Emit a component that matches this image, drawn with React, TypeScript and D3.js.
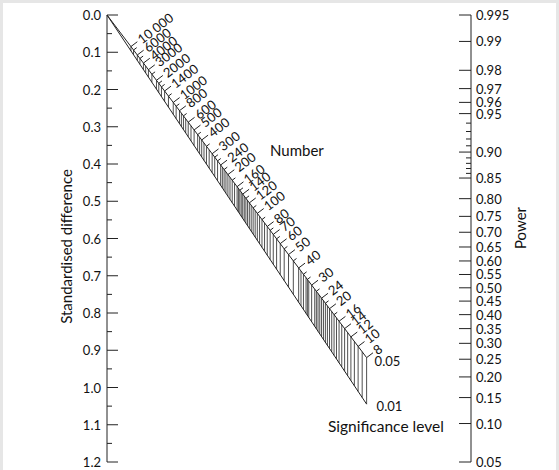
import React from 'react'
import { scaleLinear } from 'd3'

// standardised difference (left scale)
const sdLabels = [0, 0.1, 0.2, 0.3, 0.4, 0.5, 0.6, 0.7, 0.8, 0.9, 1.0, 1.1, 1.2]
const sdMinor = [0.05, 0.15, 0.25, 0.35, 0.45, 0.55, 0.65, 0.75, 0.85, 0.95, 1.05, 1.15]

// power (right scale)
const powerLabels = [0.995, 0.99, 0.98, 0.97, 0.96, 0.95, 0.9, 0.85, 0.8, 0.75, 0.7, 0.65, 0.6, 0.55, 0.5, 0.45, 0.4, 0.35, 0.3, 0.25, 0.2, 0.15, 0.1, 0.05]
const powerMinor = [0.94, 0.93, 0.92, 0.91, 0.89, 0.88, 0.87, 0.86]

// total sample size (diagonal scale)
const numberLabels = [10000, 6000, 4000, 3000, 2000, 1400, 1000, 800, 600, 500, 400, 300, 240, 200, 160, 140, 120, 100, 80, 70, 60, 50, 40, 30, 24, 20, 16, 14, 12, 10, 8]
const numberMinor = [8000, 5000, 2500, 1800, 1600, 1200, 900, 700, 450, 350, 280, 260, 220, 180, 150, 130, 110, 90, 75, 65, 55, 45, 36, 33, 27, 22, 18]
const hatchExtra = [3500, 750, 650, 550, 425, 375, 325, 230, 210, 190, 170, 155, 145, 135, 125, 115, 105, 95, 85, 38, 34, 32, 28, 26, 25, 23, 21, 19, 17, 15, 13, 11, 9]

const sigLevels = [0.05, 0.01]

const font = 'Lato, "Open Sans", sans-serif'

// inverse normal cdf (Acklam)
function probit(p: number) {
  const a = [-39.69683028665376, 220.9460984245205, -275.9285104469687, 138.357751867269, -30.66479806614716, 2.506628277459239]
  const b = [-54.47609879822406, 161.5858368580409, -155.6989798598866, 66.80131188771972, -13.28068155288572]
  const c = [-0.007784894002430293, -0.3223964580411365, -2.400758277161838, -2.549671010115505, 4.374664141464968, 2.938163982698783]
  const d = [0.007784695709041462, 0.3224671290700398, 2.445134137142996, 3.754408661907416]
  const tail = (q: number) =>
    (((((c[0] * q + c[1]) * q + c[2]) * q + c[3]) * q + c[4]) * q + c[5]) /
    ((((d[0] * q + d[1]) * q + d[2]) * q + d[3]) * q + 1)
  if (p < 0.02425) return tail(Math.sqrt(-2 * Math.log(p)))
  if (p > 1 - 0.02425) return -tail(Math.sqrt(-2 * Math.log(1 - p)))
  const q = p - 0.5
  const r = q * q
  return ((((((a[0] * r + a[1]) * r + a[2]) * r + a[3]) * r + a[4]) * r + a[5]) * q) /
    (((((b[0] * r + b[1]) * r + b[2]) * r + b[3]) * r + b[4]) * r + 1)
}

const App = () => {
  const width = 559
  const height = 470
  const top = 15
  const bottom = 462
  const xL = 107
  const xR = 471

  const yLeft = scaleLinear().domain([0, 1.2]).range([top, bottom])
  const yRight = scaleLinear().domain([probit(0.995), probit(0.05)]).range([top, bottom])

  // point on the N scale for a given significance level:
  // where the lines for delta=0 and delta=1 cross
  const nPoint = (n: number, alpha: number) => {
    const zA = probit(1 - alpha / 2)
    const y0 = yLeft(0)
    const y0r = yRight(-zA)
    const y1 = yLeft(1)
    const y1r = yRight(Math.sqrt(n) / 2 - zA)
    const s = (y1 - y0) / ((y0r - y0) - (y1r - y1))
    return [xL + s * (xR - xL), y0 + s * (y0r - y0)]
  }

  const nMin = numberLabels[numberLabels.length - 1]
  const end05 = nPoint(nMin, sigLevels[0])
  const end01 = nPoint(nMin, sigLevels[1])
  const dx = end05[0] - xL
  const dy = end05[1] - yLeft(0)
  const len = Math.hypot(dx, dy)
  const nx = dy / len
  const ny = -dx / len
  const angle = (Math.atan2(ny, nx) * 180) / Math.PI

  const hatchN = [...numberLabels, ...numberMinor, ...hatchExtra]

  const powerFmt = (v: number) => (v === 0.995 ? '0.995' : v.toFixed(2))

  return (
    <svg width={width} height={height} style={{ display: 'block', position: 'absolute', left: 0, top: 0 }}>
      <rect width={width} height={height} fill='#e6e6e6' />
      <rect x={3} y={3} width={width - 6} height={height - 3} fill='#fff' />

      {/* left axis */}
      <g stroke='#222' strokeWidth={1}>
        <line x1={xL} x2={xL} y1={yLeft(0)} y2={yLeft(1.2)} />
        {sdLabels.map(v => (
          <line key={v} x1={xL} x2={xL + 11} y1={yLeft(v)} y2={yLeft(v)} />
        ))}
        {sdMinor.map(v => (
          <line key={v} x1={xL} x2={xL + 5} y1={yLeft(v)} y2={yLeft(v)} />
        ))}
      </g>
      {sdLabels.map(v => (
        <text key={v} x={xL - 6} y={yLeft(v)} textAnchor='end' dominantBaseline='central'
          fontFamily={font} fontSize={13} fill='#111'>{v.toFixed(1)}</text>
      ))}
      <text transform={`translate(66,${(top + bottom) / 2 + 8}) rotate(-90)`} textAnchor='middle'
        dominantBaseline='central' fontFamily={font} fontSize={15} fill='#111'>Standardised difference</text>

      {/* right axis */}
      <g stroke='#222' strokeWidth={1}>
        <line x1={xR} x2={xR} y1={yRight(probit(0.995))} y2={yRight(probit(0.05))} />
        {powerLabels.map(v => (
          <line key={v} x1={xR - 12} x2={xR} y1={yRight(probit(v))} y2={yRight(probit(v))} />
        ))}
        {powerMinor.map(v => (
          <line key={v} x1={xR - 5} x2={xR} y1={yRight(probit(v))} y2={yRight(probit(v))} />
        ))}
      </g>
      {powerLabels.map(v => (
        <text key={v} x={xR + 5} y={yRight(probit(v))} dominantBaseline='central'
          fontFamily={font} fontSize={13} fill='#111'>{powerFmt(v)}</text>
      ))}
      <text transform={`translate(520,228) rotate(-90)`} textAnchor='middle'
        dominantBaseline='central' fontFamily={font} fontSize={15} fill='#111'>Power</text>

      {/* nomogram diagonal */}
      <g stroke='#222' fill='none'>
        {hatchN.map(n => {
          const p = nPoint(n, sigLevels[0])
          const q = nPoint(n, sigLevels[1])
          return <line key={n} x1={p[0]} x2={q[0]} y1={p[1]} y2={q[1]} strokeWidth={0.8} />
        })}
        <line x1={xL} y1={yLeft(0)} x2={end05[0]} y2={end05[1]} strokeWidth={1} />
        <line x1={xL} y1={yLeft(0)} x2={end01[0]} y2={end01[1]} strokeWidth={1} />
        {numberLabels.map(n => {
          const p = nPoint(n, sigLevels[0])
          return <line key={n} x1={p[0]} y1={p[1]} x2={p[0] + nx * 8} y2={p[1] + ny * 8} strokeWidth={1} />
        })}
        {numberMinor.map(n => {
          const p = nPoint(n, sigLevels[0])
          return <line key={n} x1={p[0]} y1={p[1]} x2={p[0] + nx * 4} y2={p[1] + ny * 4} strokeWidth={1} />
        })}
      </g>
      {numberLabels.map(n => {
        const p = nPoint(n, sigLevels[0])
        const lx = p[0] + nx * 10
        const ly = p[1] + ny * 10
        return (
          <text key={n} transform={`translate(${lx},${ly}) rotate(${angle})`} dominantBaseline='central'
            fontFamily={font} fontSize={13} fill='#111'>{n === 10000 ? '10 000' : n}</text>
        )
      })}
      <text x={270} y={156} fontFamily={font} fontSize={15} fill='#111'>Number</text>

      <text x={end05[0] + 8} y={end05[1] + 3} dominantBaseline='central' fontFamily={font} fontSize={13} fill='#111'>0.05</text>
      <text x={end01[0] + 10} y={end01[1] + 2} dominantBaseline='central' fontFamily={font} fontSize={13} fill='#111'>0.01</text>
      <text x={328} y={432} fontFamily={font} fontSize={15.5} fill='#111'>Significance level</text>
    </svg>
  )
}

export default App
